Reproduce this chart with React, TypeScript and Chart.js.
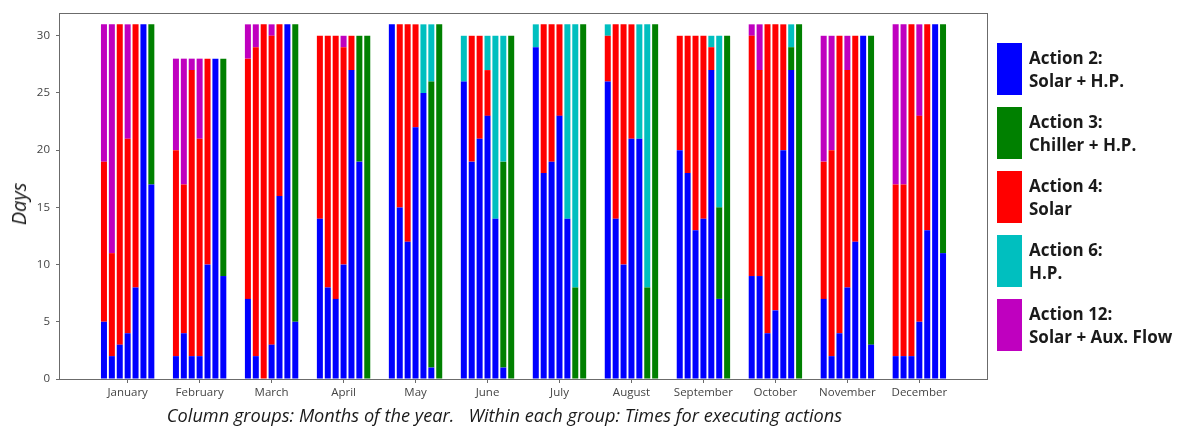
import React, { useEffect, useRef } from "react";
import { Chart, registerables } from "chart.js";

Chart.register(...registerables);

const months = [
  "January", "February", "March", "April", "May", "June",
  "July", "August", "September", "October", "November", "December",
];

const dayTicks = [0, 5, 10, 15, 20, 25, 30];

const actionTitles = ["Action 2:", "Action 3:", "Action 4:", "Action 6:", "Action 12:"];
const actionNames = ["Solar + H.P.", "Chiller + H.P.", "Solar", "H.P.", "Solar + Aux. Flow"];
const actionColors = ["#0000ff", "#008000", "#ff0000", "#00bfbf", "#bf00bf"];

// rows: months, columns: the 7 execution times within each month (days)
const action2 = [
  [5, 2, 3, 4, 8, 31, 17],
  [2, 4, 2, 2, 10, 28, 9],
  [7, 2, 0, 3, 16, 31, 5],
  [14, 8, 7, 10, 27, 19, 0],
  [31, 15, 12, 22, 25, 1, 0],
  [26, 19, 21, 23, 14, 1, 0],
  [29, 18, 19, 23, 14, 0, 0],
  [26, 14, 10, 21, 21, 0, 0],
  [20, 18, 13, 14, 27, 7, 0],
  [9, 9, 4, 6, 20, 27, 0],
  [7, 2, 4, 8, 12, 30, 3],
  [2, 2, 2, 5, 13, 31, 11],
];

const action3 = [
  [0, 0, 0, 0, 0, 0, 14],
  [0, 0, 0, 0, 0, 0, 19],
  [0, 0, 0, 0, 0, 0, 26],
  [0, 0, 0, 0, 0, 11, 30],
  [0, 0, 0, 0, 0, 25, 31],
  [0, 0, 0, 0, 0, 18, 30],
  [0, 0, 0, 0, 0, 8, 31],
  [0, 0, 0, 0, 0, 8, 31],
  [0, 0, 0, 0, 0, 8, 30],
  [0, 0, 0, 0, 0, 2, 31],
  [0, 0, 0, 0, 0, 0, 27],
  [0, 0, 0, 0, 0, 0, 20],
];

const action4 = [
  [14, 9, 28, 17, 23, 0, 0],
  [18, 13, 25, 19, 18, 0, 0],
  [21, 27, 31, 27, 15, 0, 0],
  [16, 22, 23, 19, 3, 0, 0],
  [0, 16, 19, 9, 0, 0, 0],
  [0, 11, 9, 4, 0, 0, 0],
  [0, 13, 12, 8, 0, 0, 0],
  [4, 17, 21, 10, 0, 0, 0],
  [10, 12, 17, 16, 2, 0, 0],
  [21, 18, 27, 25, 11, 0, 0],
  [12, 18, 26, 19, 18, 0, 0],
  [15, 15, 29, 18, 18, 0, 0],
];

const action6 = [
  [0, 0, 0, 0, 0, 0, 0],
  [0, 0, 0, 0, 0, 0, 0],
  [0, 0, 0, 0, 0, 0, 0],
  [0, 0, 0, 0, 0, 0, 0],
  [0, 0, 0, 0, 6, 5, 0],
  [4, 0, 0, 3, 16, 11, 0],
  [2, 0, 0, 0, 17, 23, 0],
  [1, 0, 0, 0, 10, 23, 0],
  [0, 0, 0, 0, 1, 15, 0],
  [0, 0, 0, 0, 0, 2, 0],
  [0, 0, 0, 0, 0, 0, 0],
  [0, 0, 0, 0, 0, 0, 0],
];

const action12 = [
  [12, 20, 0, 10, 0, 0, 0],
  [8, 11, 1, 7, 0, 0, 0],
  [3, 2, 0, 1, 0, 0, 0],
  [0, 0, 0, 1, 0, 0, 0],
  [0, 0, 0, 0, 0, 0, 0],
  [0, 0, 0, 0, 0, 0, 0],
  [0, 0, 0, 0, 0, 0, 0],
  [0, 0, 0, 0, 0, 0, 0],
  [0, 0, 0, 0, 0, 0, 0],
  [1, 4, 0, 0, 0, 0, 0],
  [11, 10, 0, 3, 0, 0, 0],
  [14, 14, 0, 8, 0, 0, 0],
];

const series = [action2, action3, action4, action6, action12];
const slotCount = 7;

const xTitle = "Column groups: Months of the year.   Within each group: Times for executing actions";
const yTitle = "Days";

const framePlugin = {
  id: "frame",
  afterDraw(chart: any) {
    const { ctx, chartArea } = chart;
    const { left, top, right, bottom } = chartArea;
    ctx.save();
    ctx.strokeStyle = "#6b6b6b";
    ctx.lineWidth = 1;
    ctx.strokeRect(Math.round(left) - 0.5, Math.round(top) + 0.5, Math.round(right - left) + 1, Math.round(bottom - top));
    ctx.restore();
  },
};

export default function App() {
  const canvasRef = useRef<HTMLCanvasElement | null>(null);

  useEffect(() => {
    if (!canvasRef.current) return;
    const datasets: any[] = [];
    for (let s = 0; s < slotCount; s++) {
      for (let a = 0; a < series.length; a++) {
        datasets.push({
          label: actionTitles[a] + " " + actionNames[a],
          data: months.map((_, m) => ({ x: m, y: series[a][m][s] })),
          backgroundColor: actionColors[a],
          borderWidth: 0,
          stack: "slot" + s,
          categoryPercentage: 0.768,
          barPercentage: 0.76,
        });
      }
    }
    const tickFont = { family: "'Open Sans', sans-serif", size: 11.5 };
    const chart = new Chart(canvasRef.current, {
      type: "bar",
      data: { datasets },
      plugins: [framePlugin],
      options: {
        animation: false,
        responsive: false,
        layout: { padding: { left: 0, top: 10, right: 13, bottom: 0 } },
        plugins: {
          legend: { display: false },
          tooltip: { enabled: false },
          title: { display: false },
        },
        scales: {
          x: {
            type: "linear",
            min: -0.94,
            max: 11.94,
            offset: false,
            afterBuildTicks: (sc: any) => {
              sc.ticks = months.map((_, i) => ({ value: i }));
            },
            afterFit: (sc: any) => {
              sc.height = 49;
            },
            ticks: {
              callback: (v: any) => months[v as number],
              autoSkip: false,
              maxRotation: 0,
              minRotation: 0,
              font: tickFont,
              color: "#444",
              padding: 3,
            },
            grid: {
              display: true,
              drawOnChartArea: false,
              drawTicks: true,
              tickLength: 4,
              color: "#6b6b6b",
              offset: false,
            },
            border: { display: false },
          },
          y: {
            min: 0,
            max: 32,
            stacked: true,
            afterBuildTicks: (sc: any) => {
              sc.ticks = dayTicks.map((v) => ({ value: v }));
            },
            afterFit: (sc: any) => {
              sc.width = 60;
            },
            ticks: {
              font: tickFont,
              color: "#444",
              padding: 6,
            },
            grid: {
              display: true,
              drawOnChartArea: false,
              drawTicks: true,
              tickLength: 4,
              color: "#6b6b6b",
            },
            border: { display: false },
          },
        },
      },
    } as any);
    return () => chart.destroy();
  }, []);

  return (
    <div style={{ position: "fixed", left: 0, top: 0, width: 1181, height: 428, background: "#fff", overflow: "hidden" }}>
      <div style={{ position: "absolute", left: 0, top: 0, width: 1000, height: 428 }}>
        <canvas ref={canvasRef} width={1000} height={428} />
      </div>
      <div
        style={{
          position: "absolute",
          left: 19,
          top: 204,
          transform: "translate(-50%, -50%) rotate(-90deg)",
          fontFamily: "'Open Sans', sans-serif",
          fontStyle: "italic",
          fontSize: 20,
          color: "#1a1a1a",
          whiteSpace: "nowrap",
          lineHeight: 1,
        }}
      >
        {yTitle}
      </div>
      <div
        style={{
          position: "absolute",
          left: 504.5,
          top: 415,
          transform: "translate(-50%, -50%)",
          fontFamily: "'Open Sans', sans-serif",
          fontStyle: "italic",
          fontSize: 18.2,
          color: "#1a1a1a",
          whiteSpace: "pre",
          lineHeight: 1,
        }}
      >
        {xTitle}
      </div>
      <div style={{ position: "absolute", left: 997, top: 43 }}>
        {actionTitles.map((t, i) => (
          <div key={t} style={{ display: "flex", alignItems: "center", height: 52, marginBottom: 12 }}>
            <div style={{ width: 25, height: 52, background: actionColors[i], flex: "none" }} />
            <div
              style={{
                marginLeft: 7,
                fontFamily: "'Open Sans', sans-serif",
                fontWeight: 700,
                fontSize: 17,
                lineHeight: "23px",
                color: "#1a1a1a",
                whiteSpace: "nowrap",
              }}
            >
              <div>{t}</div>
              <div>{actionNames[i]}</div>
            </div>
          </div>
        ))}
      </div>
    </div>
  );
}
